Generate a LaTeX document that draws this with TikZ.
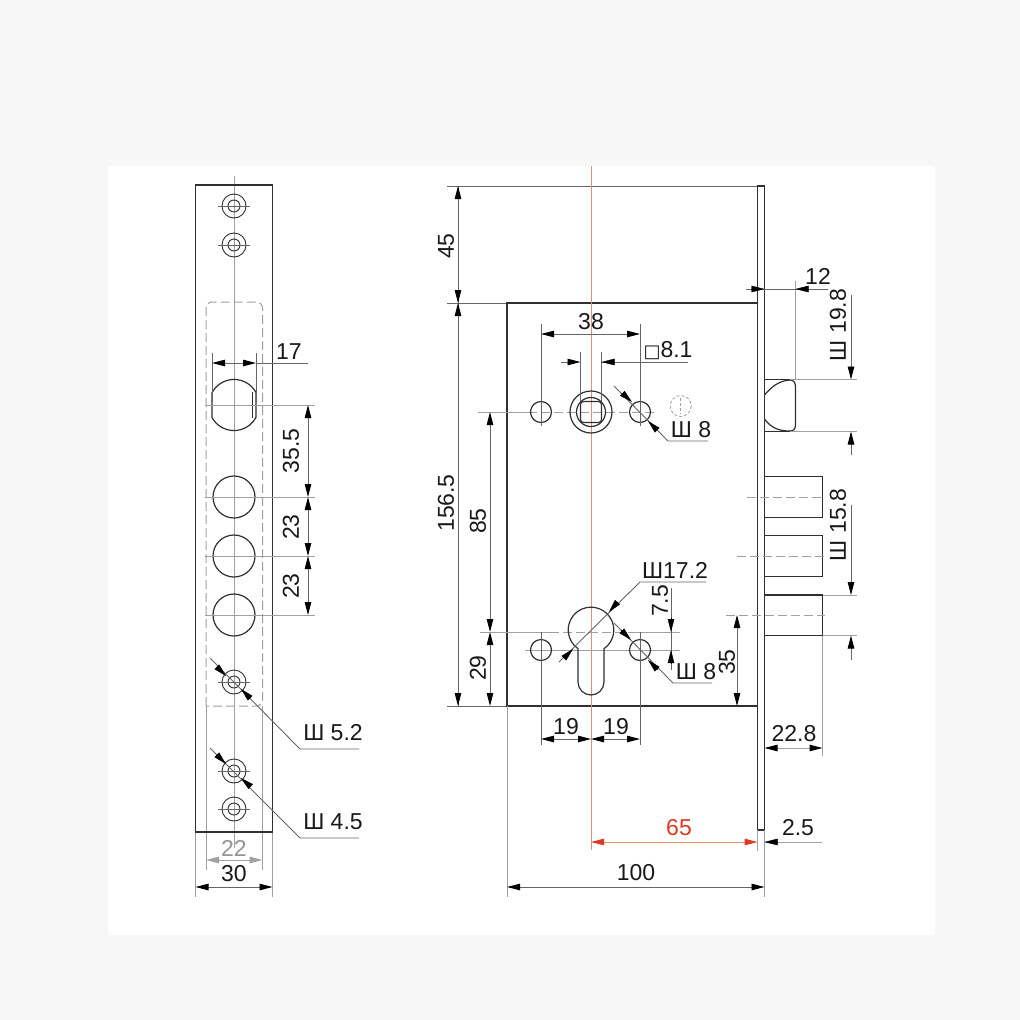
\documentclass[tikz,border=0pt]{standalone}
\usepackage{fontspec}
\setmainfont{Liberation Sans}
\newfontfamily\dejavufont{DejaVu Sans}
\usetikzlibrary{arrows.meta}
\definecolor{pagebg}{HTML}{F7F7F7}
\definecolor{ink}{HTML}{303030}
\definecolor{greyline}{HTML}{A0A0A0}
\definecolor{darkgrey}{HTML}{666666}
\definecolor{redline}{HTML}{DB9370}
\definecolor{redmark}{HTML}{DC3A22}
\tikzset{
  >={Stealth[length=13pt,width=6.5pt,inset=0pt,color=black]},
  part/.style={draw=ink,line width=1.2pt},
  thin part/.style={draw=ink,line width=0.9pt},
  axis/.style={draw=greyline,line width=1pt},
  dim/.style={draw=darkgrey,line width=0.9pt},
  greydim/.style={draw=greyline,line width=1pt},
  dash axis/.style={draw=greyline,line width=1pt,dash pattern=on 9pt off 4pt},
  label/.style={inner sep=0pt,font=\fontsize{23}{25}\selectfont,text=black!90},
  vlabel/.style={label,rotate=90},
}
\newcommand{\screwhole}[2]{%
  \draw[thin part] (#1,#2) circle[radius=12];
  \draw[thin part] (#1,#2) circle[radius=6];
  \draw[dim] (#1-16,#2) -- (#1+16,#2);
}
\begin{document}
\begin{tikzpicture}[x=1pt,y=1pt,yscale=-1]
\useasboundingbox (0,0) rectangle (1020,1020);
\fill[pagebg] (0,0) rectangle (1020,1020);
\fill[white] (108,166) rectangle (935,935);

% ---------- strike plate ----------
\draw[axis] (234,176) -- (234,848);
\draw[dash axis,rounded corners=6pt] (206,706) -- (206,302) -- (262.5,302) -- (262.5,706) -- (206,706);
\draw[axis] (206,706) -- (206,870);
\draw[axis] (262.5,706) -- (262.5,870);
\draw[axis] (195.5,832) -- (195.5,897);
\draw[axis] (272.5,832) -- (272.5,897);
\draw[part] (195.5,185) rectangle (272.5,832);
\screwhole{234}{206}
\screwhole{234}{245}
\screwhole{234}{682}
\screwhole{234}{771}
\screwhole{234}{809}

% oval bolt hole
\draw[part] (212,392.6) arc[start angle=-151.8,end angle=-28.2,radius=25]
  -- (256,417.4) arc[start angle=28.2,end angle=151.8,radius=25] -- cycle;
\draw[thin part] (252.5,392) -- (252.5,418);
\draw[part] (234,497) circle[radius=21];
\draw[part] (234,556) circle[radius=21];
\draw[part] (234,615) circle[radius=21];
\draw[axis] (205,405) -- (315,405);
\draw[axis] (205,497) -- (315,497);
\draw[axis] (205,556) -- (315,556);
\draw[axis] (205,615) -- (315,615);

% plate dimensions
\draw[dim] (212,353) -- (212,402);
\draw[dim] (256,353) -- (256,402);
\draw[dim,<->] (212,363) -- (256,363);
\draw[dim] (256,363) -- (308,363);
\node[label] (t17) at (289,352) {17};
\draw[dim,<->] (308,405) -- (308,497);
\draw[dim,<->] (308,497) -- (308,556);
\draw[dim,<->] (308,556) -- (308,615);
\node[vlabel] (t355) at (291,451) {35.5};
\node[vlabel] (t23a) at (291,527) {23};
\node[vlabel] (t23b) at (291,586) {23};
\draw[dim] (210,658) -- (300,749) -- (359,749);
\draw[->] (218,668) -- (226,676);
\draw[->] (250,698) -- (241,689);
\node[label] (t52) at (333,733) {Ш 5.2};
\draw[dim] (210,748) -- (300,838) -- (359,838);
\draw[->] (218,756) -- (226,764);
\draw[->] (250,786) -- (241,778);
\node[label] (t45) at (333,822) {Ш 4.5};
\draw[greydim,{Stealth[length=13pt,width=6.5pt,inset=0pt,color=greyline]}-{Stealth[length=13pt,width=6.5pt,inset=0pt,color=greyline]}] (206,860) -- (262.5,860);
\node[label,text=darkgrey!70] (t22) at (234,848) {22};
\draw[dim,<->] (195.5,887) -- (272.5,887);
\node[label] (t30) at (234,874) {30};

% ---------- lock body ----------
\draw[dim] (447,186) -- (757.5,186);
\draw[dim] (447,303) -- (507,303);
\draw[dim] (447,706) -- (507,706);
\draw[part] (507,303) rectangle (757.5,706);
\draw[part] (757.5,186) rectangle (764.5,830);
\draw[draw=redline,line width=1pt] (591,166) -- (591,850);

% spindle group
\draw[axis] (478,412) -- (528,412);
\draw[dash axis] (528,412) -- (655,412);
\draw[part] (541,412) circle[radius=10.5];
\draw[part] (640,412) circle[radius=10.5];
\draw[part] (591,412) circle[radius=21];
\draw[part] (591,412) circle[radius=14.5];
\draw[part,rounded corners=3pt] (580.5,401.5) rectangle (601.5,422.5);
\draw[draw=greyline,line width=0.8pt,dash pattern=on 3pt off 2pt] (680.7,406) circle[radius=10.5];
\draw[draw=greyline,line width=0.8pt,dash pattern=on 3pt off 2pt] (680.7,398) -- (680.7,414);
\draw[dim] (541,324) -- (541,426);
\draw[dim] (640,324) -- (640,426);
\draw[dim,<->] (541,334) -- (640,334);
\node[label] (t38) at (591,322) {38};
\draw[dim] (580.5,352) -- (580.5,401);
\draw[dim] (601.5,352) -- (601.5,401);
\draw[dim,->] (561,362) -- (580.5,362);
\draw[dim] (601.5,362) -- (688,362);
\draw[->] (615,362) -- (601.5,362);
\node[label] (t81) at (668,351) {{\dejavufont\fontsize{18}{20}\selectfont □}8.1};
\draw[dim] (614,386) -- (668,441) -- (708,441);
\draw[->] (622,393) -- (632,402);
\draw[->] (657,430) -- (648,421);
\node[label] (t8a) at (691,430) {Ш 8};

% cylinder group
\draw[axis] (480,632) -- (550,632);
\draw[dash axis] (550,632) -- (630,632);
\draw[axis] (630,632) -- (680,632);
\draw[axis] (525,650) -- (680,650);
\draw[part] (604,648.7) arc[start angle=55.3,end angle=-235.3,radius=22.8]
  -- (578,682) arc[start angle=180,end angle=0,radius=13] -- cycle;
\draw[part] (541,650) circle[radius=10.5];
\draw[part] (640,650) circle[radius=10.5];
\draw[dim] (541,632) -- (541,745);
\draw[dim] (640,632) -- (640,745);
\draw[dim,<->] (541,739) -- (591,739);
\draw[dim,<->] (591,739) -- (640,739);
\node[label] (t19a) at (566,727) {19};
\node[label] (t19b) at (616,727) {19};
\draw[dim] (559,662) -- (640,582) -- (706,582);
\draw[->] (615,605) -- (609,612);
\draw[->] (565,657) -- (573,649);
\node[label] (t172) at (675,570) {Ш17.2};
\draw[dim] (671,588) -- (671,670);
\draw[->] (671,618) -- (671,632);
\draw[->] (671,664) -- (671,650);
\node[vlabel] (t75) at (660,601) {7.5};
\draw[dim] (614,623) -- (673,683) -- (712,683);
\draw[->] (621,630) -- (631,640);
\draw[->] (658,670) -- (648,660);
\node[label] (t8b) at (696,672) {Ш 8};

% body dimensions
\draw[dim] (458,186) -- (458,706);
\draw[dim,<->] (458,186) -- (458,303);
\draw[dim,<->] (458,303) -- (458,706);
\node[vlabel] (t45a) at (446,246) {45};
\node[vlabel] (t156) at (446,503) {156.5};
\draw[dim,<->] (490,412) -- (490,632);
\draw[dim,<->] (490,632) -- (490,706);
\node[vlabel] (t85) at (478,521) {85};
\node[vlabel] (t29) at (478,668) {29};
\draw[dim,<->] (737,615) -- (737,706);
\node[vlabel] (t35) at (727,662) {35};

% latch
\draw[part] (764.5,395) .. controls (772,386) and (780,380.5) .. (790,380) .. controls (794,380) and (795.5,383) .. (795.5,387)
  -- (795.5,424) .. controls (795.5,429) and (794,431) .. (790,431) .. controls (779,431) and (771,428) .. (764.5,419);
\draw[part] (764.5,379.5) -- (790,379.5);
\draw[part] (764.5,431.5) -- (790,431.5);
\draw[axis] (790,379.5) -- (857,379.5);
\draw[axis] (790,431.5) -- (857,431.5);
\draw[axis] (795.5,281) -- (795.5,380);
\draw[dim] (746,289) -- (828,289);
\draw[->] (752,289) -- (764.5,289);
\draw[->] (808,289) -- (795.5,289);
\node[label] (t12) at (818,276) {12};
\draw[dim,<-] (851,379.5) -- (851,295);
\draw[dim,<-] (851,431.5) -- (851,455);
\node[vlabel] (t198) at (838,325) {Ш 19.8};

% dead bolts
\draw[part] (764.5,476.5) -- (822.5,476.5) -- (822.5,517.5) -- (764.5,517.5);
\draw[part] (764.5,535.5) -- (822.5,535.5) -- (822.5,576.5) -- (764.5,576.5);
\draw[part] (764.5,595) -- (822.5,595) -- (822.5,635.5) -- (764.5,635.5);
\draw[dash axis] (747,497) -- (825,497);
\draw[dash axis] (737,556) -- (825,556);
\draw[dash axis] (726,615) -- (825,615);
\draw[axis] (822.5,595) -- (857,595);
\draw[axis] (822.5,635.5) -- (857,635.5);
\draw[dim,<-] (851,595) -- (851,505);
\draw[dim,<-] (851,635.5) -- (851,660);
\node[vlabel] (t158) at (838,525) {Ш 15.8};
\draw[axis] (822.5,635.5) -- (822.5,756);
\draw[axis,<->] (764.5,748) -- (822.5,748);
\node[label] (t228) at (794,734) {22.8};

% bottom dimensions
\draw[axis] (757.5,830) -- (757.5,851);
\draw[axis] (764.5,830) -- (764.5,897);
\draw[axis] (507,706) -- (507,897);
\draw[draw=redline,line width=1pt,{Stealth[length=13pt,width=6.5pt,inset=0pt,color=redmark]}-{Stealth[length=13pt,width=6.5pt,inset=0pt,color=redmark]}] (591,842) -- (757.5,842);
\node[label,text=redmark] (t65) at (679,828) {65};
\draw[axis] (764.5,842) -- (822,842);
\draw[->] (778,842) -- (764.5,842);
\node[label] (t25) at (798,828) {2.5};
\draw[dim,<->] (507,887) -- (764.5,887);
\node[label] (t100) at (636,873) {100};
\end{tikzpicture}
\end{document}
